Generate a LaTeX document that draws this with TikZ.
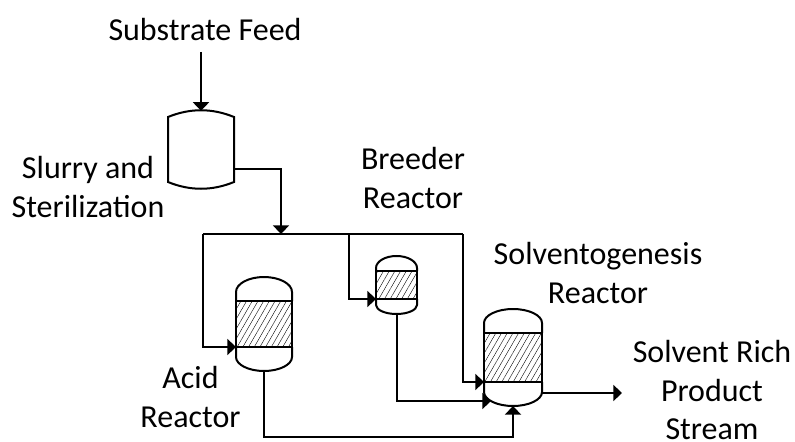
\documentclass[tikz,border=0pt]{standalone}
\usepackage{fontspec}
\setmainfont{Carlito}
\usetikzlibrary{arrows.meta,patterns.meta,calc}
\tikzset{
  pipe/.style={line width=1.5pt,line join=miter},
  feed/.style={pipe,-{Triangle[length=6.5pt,width=12pt]}},
  shell/.style={line width=1.5pt},
  label/.style={align=center,inner sep=0pt,anchor=base,font=\fontsize{24}{28.7}\selectfont},
  bed/.style={draw=none,inner sep=0pt,outer sep=0pt,
    pattern={Lines[angle=60,distance=3.7pt,line width=.3pt]},pattern color=black},
  body/.style={inner sep=0pt,outer sep=0pt,draw=none}
}
% name, x1, x2, top, upper shoulder, bed top, bed bottom, lower shoulder, bottom
\newcommand{\vesselshape}[9]{%
  \path ({(#2+#3)/2},{(#4+#9)/2}) node[body,minimum width={(#3-#2)*.75pt},minimum height={(#9-#4)*.75pt}] (#1) {};
  \path ({(#2+#3)/2},{(#6+#7)/2}) node[bed,minimum width={(#3-#2)*.75pt},minimum height={(#7-#6)*.75pt}] (#1bed) {};
  \draw[shell] (#2,#6) -- (#2,#5) .. controls (#2,{#5-.55*(#5-#4)}) and ({(#2+#3)/2-.55*(#3-#2)/2},#4) .. ({(#2+#3)/2},#4)
     .. controls ({(#2+#3)/2+.55*(#3-#2)/2},#4) and (#3,{#5-.55*(#5-#4)}) .. (#3,#5) -- (#3,#6);
  \draw[shell] (#2,#6) -- (#3,#6) (#2,#7) -- (#3,#7) (#2,#6) -- (#2,#7) (#3,#6) -- (#3,#7);
  \draw[shell] (#2,#7) -- (#2,#8) .. controls (#2,{#8+.55*(#9-#8)}) and ({(#2+#3)/2-.55*(#3-#2)/2},#9) .. ({(#2+#3)/2},#9)
     .. controls ({(#2+#3)/2+.55*(#3-#2)/2},#9) and (#3,{#8+.55*(#9-#8)}) .. (#3,#8) -- (#3,#7);
}
\begin{document}
\begin{tikzpicture}[x=.75pt,y=-.75pt]
\useasboundingbox (0,0) rectangle (795,442);
% labels
\node[label] (lfeed) at (205,41) {Substrate Feed};
\node[label] (lslurry) at (88,217) {Slurry and\\Sterilization};
\node[label] (lbreeder) at (413,208) {Breeder\\Reactor};
\node[label] (lsolv) at (598,303) {Solventogenesis\\Reactor};
\node[label] (lacid) at (190.5,427) {Acid\\Reactor};
\node[label] (lprod) at (712,439.5) {Solvent Rich\\Product\\Stream};
% mixing tank
\node[body,minimum width=49.5pt,minimum height=58pt] (tank) at (201,149.5) {};
\draw[shell] (168,117) .. controls (190,108) and (212,108) .. (234,117) -- (234,182)
  .. controls (212,191) and (190,191) .. (168,182) -- cycle;
% vessels
\vesselshape{acid}{236}{292}{277}{292}{301}{347}{357}{371}
\vesselshape{breeder}{376}{417}{256}{268}{271}{299}{305}{314}
\vesselshape{solv}{484}{542}{309}{323}{333}{382}{392}{406}
% named pipe points
\coordinate (feedtop) at (201,52);
\coordinate (hdrL) at (203,234);
\coordinate (hdrIn) at (281,234);
\coordinate (hdrB) at (349,234);
\coordinate (hdrR) at (463,234);
\coordinate (prod) at (622,393);
% connectors
\draw[feed] (feedtop) -- (tank.north);
\draw[pipe] (hdrL) -- (hdrR);
\draw[feed] (tank.east |- 0,169) -| (hdrIn);
\draw[feed] (hdrL) |- (acid.west |- 0,347);
\draw[feed] (hdrB) |- (breeder.west |- 0,299);
\draw[feed] (hdrR) |- (solv.west |- 0,382);
\draw[feed] (acid.south) |- (513,437) -- (solv.south);
\draw[feed] (breeder.south) |- (491,401);
\draw[feed] (solv.east |- 0,393) -- (prod);
\end{tikzpicture}
\end{document}
